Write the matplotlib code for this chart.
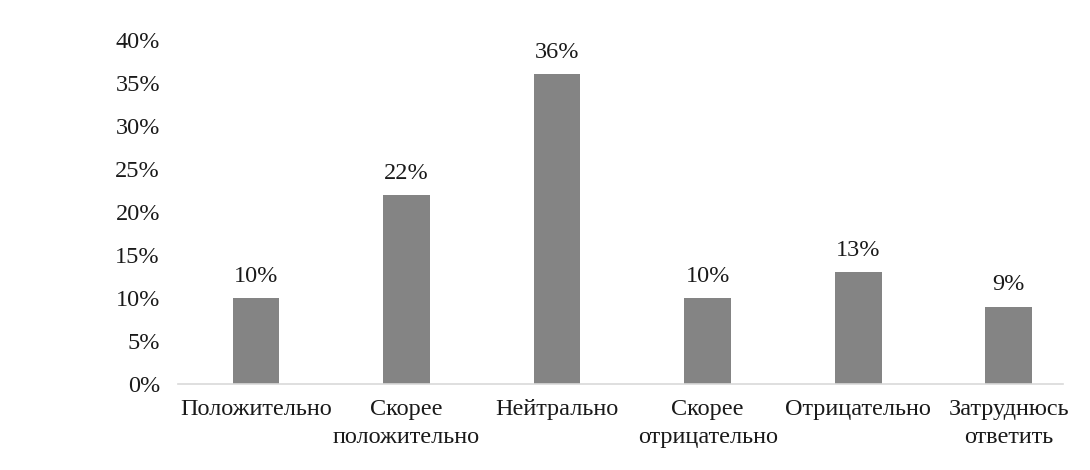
import matplotlib
matplotlib.use("Agg")
import matplotlib.pyplot as plt
from matplotlib.ticker import FuncFormatter

categories = ["Положительно", "Скорее\nположительно", "Нейтрально",
              "Скорее\nотрицательно", "Отрицательно", "Затруднюсь\nответить"]
values = [10, 22, 36, 10, 13, 9]
yticks = [0, 5, 10, 15, 20, 25, 30, 35, 40]

plt.rcParams['font.family'] = ['Liberation Serif', 'DejaVu Serif']

fig = plt.figure(figsize=(10.9, 4.7), dpi=100)
ax = fig.add_axes([178/1090, 1-384/470, (1063-178)/1090, (384-40)/470])

x = list(range(len(categories)))
bars = ax.bar(x, values, width=0.31, color='#848484', zorder=2)
for xi, v in zip(x, values):
    ax.annotate(f"{v}%", (xi, v), xytext=(0, 8), textcoords='offset points',
                ha='center', va='bottom', fontsize=17.5, color='#1a1a1a')

ax.set_xlim(-0.518, 5.36)
ax.set_ylim(0, 40)
ax.set_yticks(yticks)
ax.yaxis.set_major_formatter(FuncFormatter(lambda v, p: f"{int(v)}%"))
ax.set_xticks(x)
ax.set_xticklabels(categories, linespacing=1.42)
ax.tick_params(axis='both', length=0, labelsize=17.5, colors='#1a1a1a')
ax.tick_params(axis='y', pad=13)
ax.tick_params(axis='x', pad=11)
for s in ['top', 'right', 'left']:
    ax.spines[s].set_visible(False)
ax.spines['bottom'].set_color('#d9d9d9')
ax.spines['bottom'].set_linewidth(1.2)

fig.savefig("out.png", dpi=100, facecolor='white')
